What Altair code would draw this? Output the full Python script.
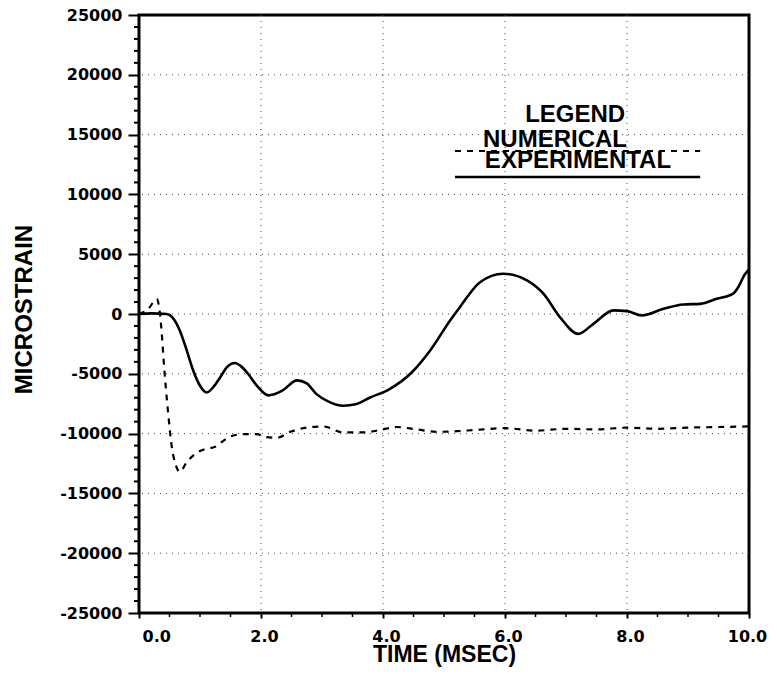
import altair as alt
import pandas as pd

# Experimental (solid) series: time (ms), microstrain
exp_t = [0.0, 0.2, 0.45, 0.58, 0.67, 0.78, 0.89, 1.0, 1.11, 1.22, 1.33, 1.45, 1.57, 1.68,
         1.79, 1.95, 2.12, 2.35, 2.59, 2.75, 2.91, 3.1, 3.35, 3.55, 3.79, 4.1, 4.47, 4.77,
         5.10, 5.26, 5.59, 5.97, 6.36, 6.63, 6.90, 7.20, 7.45, 7.78, 8.00, 8.24, 8.60, 8.92,
         9.20, 9.47, 9.74, 9.83, 9.93, 10.0]
exp_v = [0, 50, 0, -500, -1400, -3000, -4750, -6000, -6560, -6100, -5300, -4400, -4100, -4400,
         -5020, -6100, -6800, -6400, -5550, -5800, -6700, -7300, -7670, -7550, -6980, -6300, -4890, -3070,
         -540, 570, 2660, 3370, 2810, 1700, -260, -1660, -820, 300, 240, -120, 430, 800,
         850, 1270, 1700, 2300, 3300, 3700]

# Numerical (dashed) series
num_t = [0.0, 0.15, 0.29, 0.37, 0.40, 0.48, 0.54, 0.60, 0.67, 0.78, 0.92, 1.08, 1.25, 1.41,
         1.52, 1.71, 1.93, 2.09, 2.26, 2.48, 2.75, 3.02, 3.35, 3.68, 4.0, 4.22, 4.55, 4.88,
         5.21, 5.5, 6.0, 6.5, 7.0, 7.5, 8.0, 8.5, 9.0, 9.5, 10.0]
num_v = [0, 400, 1250, -1400, -3600, -8400, -11200, -12600, -13200, -12400, -11700, -11300, -11100, -10500,
         -10200, -10050, -10050, -10300, -10350, -9850, -9500, -9400, -9900, -9900, -9650, -9450, -9650, -9850,
         -9800, -9700, -9550, -9750, -9600, -9650, -9500, -9600, -9500, -9450, -9400]

x_ticks = [0, 2, 4, 6, 8, 10]
y_ticks = [-25000, -20000, -15000, -10000, -5000, 0, 5000, 10000, 15000, 20000, 25000]
y_minor = [-24000, -23000, -22000, -21000, -19000, -18000, -17000, -16000, -14000, -13000,
           -12000, -11000, -9000, -8000, -7000, -6000, -4000, -3000, -2000, -1000,
           1000, 2000, 3000, 4000, 6000, 7000, 8000, 9000, 11000, 12000, 13000, 14000,
           16000, 17000, 18000, 19000, 21000, 22000, 23000, 24000]
x_minor = [0.5, 1.0, 1.5, 2.5, 3.0, 3.5, 4.5, 5.0, 5.5, 6.5, 7.0, 7.5, 8.5, 9.0, 9.5]
grid_x = [2, 4, 6, 8]
grid_y = [-20000, -15000, -10000, -5000, 0, 5000, 10000, 15000, 20000]

legend_labels = ["LEGEND", "NUMERICAL", "EXPERIMENTAL"]
legend_tx = [6.33, 5.64, 5.67]
legend_ty = [16050, 13960, 12210]
legend_line_t1 = [5.18, 5.18]
legend_line_t2 = [9.20, 9.20]
legend_line_v = [13630, 11450]

xscale = alt.Scale(domain=[0, 10], nice=False, zero=False)
yscale = alt.Scale(domain=[-25000, 25000], nice=False, zero=False)

xaxis = alt.Axis(
    values=x_ticks, title="TIME (MSEC)", format=".1f",
    titleFont="Liberation Sans", titleFontSize=23, titleFontWeight="bold", titleColor="black",
    titleY=30, titleBaseline="top",
    labelFont="DejaVu Sans", labelFontSize=16, labelFontWeight="bold", labelColor="black",
    labelPadding=10, labelFlush=False, labelOverlap=False,
    labelOffset={"condition": {"test": "datum.value == 10", "value": -2}, "value": 3},
    labelAlign={"condition": {"test": "datum.value == 0", "value": "left"}, "value": "center"},
    tickSize=5, tickWidth=2, tickColor="black", domain=False, grid=False,
)
yaxis = alt.Axis(
    values=y_ticks, title="MICROSTRAIN",
    titleFont="Liberation Sans", titleFontSize=24, titleFontWeight="bold", titleColor="black",
    titleAngle=270, titleX=-108, titleY=294, titleAlign="center", titleBaseline="alphabetic",
    labelFont="DejaVu Sans", labelFontSize=16, labelFontWeight="bold", labelColor="black",
    labelPadding=6, labelOverlap=False,
    labelExpr="datum.value < 0 ? '-' + abs(datum.value) : '' + datum.value",
    tickSize=11, tickWidth=2, tickColor="black", domain=False, grid=False,
)


def X(field):
    return alt.X(field, scale=xscale, axis=xaxis)


def Y(field):
    return alt.Y(field, scale=yscale, axis=yaxis)


exp_df = pd.DataFrame({"t": exp_t, "v": exp_v})
num_df = pd.DataFrame({"t": num_t, "v": num_v})

gy = alt.Chart(pd.DataFrame({"v": grid_y})).mark_rule(
    color="#444", strokeWidth=1, strokeDash=[1, 5]
).encode(y=Y("v:Q"))

gx = alt.Chart(pd.DataFrame({"t": grid_x})).mark_rule(
    color="#444", strokeWidth=1, strokeDash=[1, 5]
).encode(x=X("t:Q"))

ymin = alt.Chart(pd.DataFrame({"v": y_minor})).mark_rule(
    color="black", strokeWidth=2
).encode(y=Y("v:Q"), x=alt.value(-5), x2=alt.value(0))

xmin = alt.Chart(pd.DataFrame({"t": x_minor})).mark_rule(
    color="black", strokeWidth=1.5
).encode(x=X("t:Q"), y=alt.value(598), y2=alt.value(602))

exp_line = alt.Chart(exp_df).mark_line(
    color="black", strokeWidth=2.6, interpolate="monotone"
).encode(x=X("t:Q"), y=Y("v:Q"))

num_line = alt.Chart(num_df).mark_line(
    color="black", strokeWidth=2.2, strokeDash=[6, 6], interpolate="monotone"
).encode(x=X("t:Q"), y=Y("v:Q"))

leg_dash_df = pd.DataFrame({"t": [legend_line_t1[0]], "t2": [legend_line_t2[0]], "v": [legend_line_v[0]]})
leg_solid_df = pd.DataFrame({"t": [legend_line_t1[1]], "t2": [legend_line_t2[1]], "v": [legend_line_v[1]]})

leg_dash = alt.Chart(leg_dash_df).mark_rule(
    color="black", strokeWidth=2.2, strokeDash=[6, 6]
).encode(x=X("t:Q"), x2="t2:Q", y=Y("v:Q"))
leg_solid = alt.Chart(leg_solid_df).mark_rule(
    color="black", strokeWidth=2.6
).encode(x=X("t:Q"), x2="t2:Q", y=Y("v:Q"))

leg_text = alt.Chart(pd.DataFrame({"t": legend_tx, "v": legend_ty, "label": legend_labels})).mark_text(
    align="left", baseline="alphabetic", font="Liberation Sans", fontSize=24,
    fontWeight="bold", color="black"
).encode(x=X("t:Q"), y=Y("v:Q"), text="label:N")

chart = alt.layer(
    gy, gx, ymin, xmin, num_line, exp_line, leg_dash, leg_solid, leg_text
).properties(
    width=610, height=598,
    autosize=alt.AutoSizeParams(type="none"),
    padding={"left": 131, "top": 7, "right": 20, "bottom": 55},
    background="white",
).configure_view(stroke="black", strokeWidth=3)

chart.save("out.html", embed_options={"renderer": "svg", "actions": False})
